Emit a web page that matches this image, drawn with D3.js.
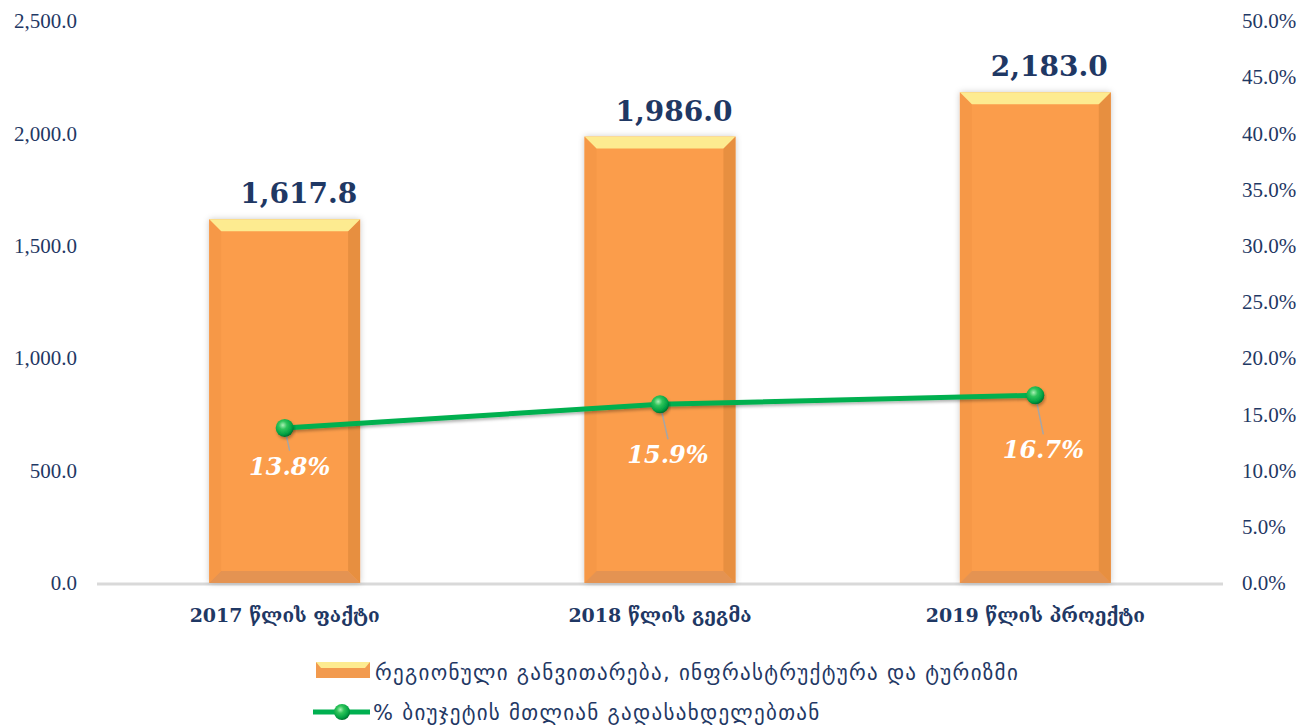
<!DOCTYPE html>
<html>
<head>
<meta charset="utf-8">
<script src="https://cdn.jsdelivr.net/npm/d3@7"></script>
<style>
  html, body { margin: 0; padding: 0; background: #ffffff; }
  svg { display: block; }
</style>
</head>
<body>
<svg id="chart" width="1313" height="725"></svg>
<script>
// Regional development budget (million GEL) and its share of total budget spending
const categories = ["2017 წლის ფაქტი", "2018 წლის გეგმა", "2019  წლის პროექტი"];
const spending = [1617.8, 1986.0, 2183.0];
const sharePct = [13.8, 15.9, 16.7];
const leftTicks = [0, 500, 1000, 1500, 2000, 2500];
const rightTicks = [0, 5, 10, 15, 20, 25, 30, 35, 40, 45, 50];
const legendLabels = [
  "რეგიონული განვითარება, ინფრასტრუქტურა და ტურიზმი",
  "% ბიუჯეტის მთლიან გადასახდელებთან"
];

const navy = "#1f3864";
const svg = d3.select("#chart");
const plot = { left: 97, right: 1223, top: 21, bottom: 583 };

const x = d3.scaleBand()
  .domain(categories)
  .range([plot.left, plot.right])
  .paddingInner(0.598)
  .paddingOuter(0.299);
const yL = d3.scaleLinear().domain([0, 2500]).range([plot.bottom, plot.top]);
const yR = d3.scaleLinear().domain([0, 50]).range([plot.bottom, plot.top]);

const defs = svg.append("defs");
const shadow = defs.append("filter").attr("id", "barShadow")
  .attr("x", "-20%").attr("y", "-10%").attr("width", "140%").attr("height", "120%");
shadow.append("feDropShadow").attr("dx", 0).attr("dy", 0)
  .attr("stdDeviation", 3).attr("flood-color", "#000").attr("flood-opacity", 0.22);

const lineShadow = defs.append("filter").attr("id", "lineShadow")
  .attr("x", "-10%").attr("y", "-50%").attr("width", "120%").attr("height", "200%");
lineShadow.append("feDropShadow").attr("dx", 1).attr("dy", 2)
  .attr("stdDeviation", 1.5).attr("flood-color", "#000").attr("flood-opacity", 0.3);

const ball = defs.append("radialGradient").attr("id", "ball")
  .attr("cx", "40%").attr("cy", "35%").attr("r", "65%");
ball.append("stop").attr("offset", "0%").attr("stop-color", "#a8f0b4");
ball.append("stop").attr("offset", "35%").attr("stop-color", "#2fc45a");
ball.append("stop").attr("offset", "80%").attr("stop-color", "#00a042");
ball.append("stop").attr("offset", "100%").attr("stop-color", "#00702e");

// Axis baseline
svg.append("line")
  .attr("x1", plot.left).attr("x2", plot.right)
  .attr("y1", plot.bottom + 1).attr("y2", plot.bottom + 1)
  .attr("stroke", "#d9d9d9").attr("stroke-width", 3);

// Left value axis
const axisL = d3.axisLeft(yL).tickValues(leftTicks).tickSize(0).tickPadding(0)
  .tickFormat(d3.format(",.1f"));
const gL = svg.append("g").attr("transform", "translate(77,0)").call(axisL);
gL.select(".domain").remove();
gL.selectAll("text").attr("fill", navy)
  .style("font-family", "'Liberation Serif', serif").style("font-size", "21px");

// Right percentage axis
const axisR = d3.axisRight(yR).tickValues(rightTicks).tickSize(0).tickPadding(0)
  .tickFormat(d => d3.format(".1f")(d) + "%");
const gR = svg.append("g").attr("transform", "translate(1242,0)").call(axisR);
gR.select(".domain").remove();
gR.selectAll("text").attr("fill", navy)
  .style("font-family", "'Liberation Serif', serif").style("font-size", "21px");

// Bevelled bars
function bevelBar(g, x0, y0, w, h, b) {
  const x1 = x0 + w, y1 = y0 + h;
  g.append("rect").attr("x", x0).attr("y", y0).attr("width", w).attr("height", h)
    .attr("fill", "#fb9d4c").attr("filter", "url(#barShadow)");
  g.append("polygon").attr("fill", "#f69847")
    .attr("points", [[x0, y0], [x0 + b, y0 + b], [x0 + b, y1 - b], [x0, y1]].join(" "));
  g.append("polygon").attr("fill", "#e78f40")
    .attr("points", [[x1, y0], [x1 - b, y0 + b], [x1 - b, y1 - b], [x1, y1]].join(" "));
  g.append("polygon").attr("fill", "#e49352")
    .attr("points", [[x0, y1], [x0 + b, y1 - b], [x1 - b, y1 - b], [x1, y1]].join(" "));
  g.append("polygon").attr("fill", "#fdeb90")
    .attr("points", [[x0, y0], [x1, y0], [x1 - b, y0 + b], [x0 + b, y0 + b]].join(" "));
}

const bars = svg.append("g");
categories.forEach((c, i) => {
  const g = bars.append("g");
  bevelBar(g, x(c), yL(spending[i]), x.bandwidth(), yL(0) - yL(spending[i]), 12);
});

// Bar value labels
svg.append("g").selectAll("text").data(spending).join("text")
  .attr("x", (d, i) => x(categories[i]) + x.bandwidth() / 2 + 14)
  .attr("y", d => yL(d) - 16)
  .attr("text-anchor", "middle")
  .attr("fill", navy)
  .style("font-family", "'DejaVu Serif', serif").style("font-weight", "bold")
  .style("font-size", "28px")
  .text(d => d3.format(",.1f")(d));

// Share line
const cx = (i) => x(categories[i]) + x.bandwidth() / 2;
const line = d3.line().x((d, i) => cx(i)).y(d => yR(d));
svg.append("path").datum(sharePct)
  .attr("d", line).attr("fill", "none")
  .attr("stroke", "#00b050").attr("stroke-width", 5)
  .attr("filter", "url(#lineShadow)");

// Leader lines and percentage labels
const labelOffset = [[5, 47], [8, 59], [8, 63]];
svg.append("g").selectAll("line").data(sharePct).join("line")
  .attr("x1", (d, i) => cx(i)).attr("y1", d => yR(d))
  .attr("x2", (d, i) => cx(i) + labelOffset[i][0])
  .attr("y2", (d, i) => yR(d) + labelOffset[i][1] - 24)
  .attr("stroke", "#a6a6a6").attr("stroke-width", 1.5);

svg.append("g").selectAll("circle").data(sharePct).join("circle")
  .attr("cx", (d, i) => cx(i)).attr("cy", d => yR(d)).attr("r", 9)
  .attr("fill", "url(#ball)").attr("filter", "url(#lineShadow)");

svg.append("g").selectAll("text").data(sharePct).join("text")
  .attr("x", (d, i) => cx(i) + labelOffset[i][0])
  .attr("y", (d, i) => yR(d) + labelOffset[i][1])
  .attr("text-anchor", "middle")
  .attr("fill", "#ffffff")
  .style("font-family", "'DejaVu Serif', serif").style("font-weight", "bold")
  .style("font-style", "italic").style("font-size", "24px")
  .text(d => d3.format(".1f")(d) + "%");

// Category axis
const axisX = d3.axisBottom(x).tickSize(0).tickPadding(0);
const gX = svg.append("g").attr("transform", `translate(0,${plot.bottom + 39})`).call(axisX);
gX.select(".domain").remove();
gX.selectAll("text").attr("fill", navy).attr("dy", 0)
  .style("font-family", "'DejaVu Serif', 'DejaVu Sans', serif")
  .style("font-weight", "bold").style("font-size", "19px");

// Legend
const lg = svg.append("g");
function bevelLegend(g, x0, y0, w, h) {
  g.append("rect").attr("x", x0).attr("y", y0).attr("width", w).attr("height", h).attr("fill", "#f29a4e");
  g.append("polygon").attr("fill", "#fdeb90")
    .attr("points", [[x0, y0], [x0 + w, y0], [x0 + w - 5, y0 + 6], [x0 + 5, y0 + 6]].join(" "));
}
bevelLegend(lg, 316, 662, 54, 16);
lg.append("text").attr("x", 375).attr("y", 680).text(legendLabels[0]);
lg.append("line").attr("x1", 313).attr("x2", 370).attr("y1", 712).attr("y2", 712)
  .attr("stroke", "#00b050").attr("stroke-width", 5);
lg.append("circle").attr("cx", 342).attr("cy", 712).attr("r", 8).attr("fill", "url(#ball)");
lg.append("text").attr("x", 373).attr("y", 720).text(legendLabels[1]);
lg.selectAll("text").attr("fill", navy)
  .style("font-family", "'DejaVu Sans', sans-serif").style("font-size", "21px")
  .style("letter-spacing", "1.3px");
</script>
</body>
</html>
